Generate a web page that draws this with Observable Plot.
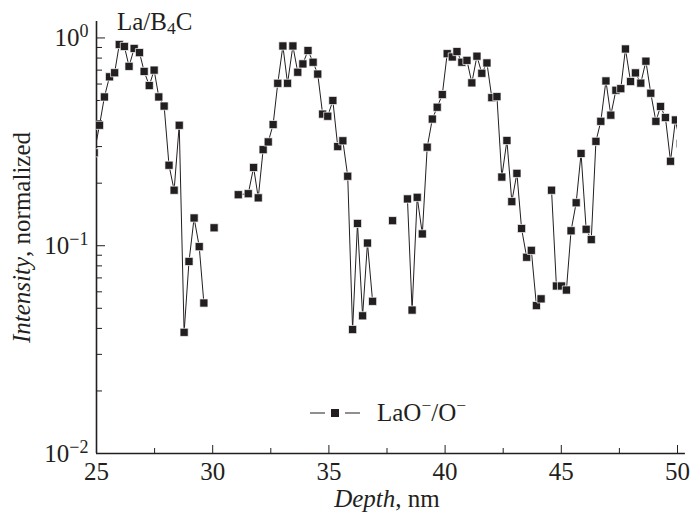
<!DOCTYPE html>
<html><head><meta charset="utf-8">
<script src="https://cdn.jsdelivr.net/npm/d3@7"></script>
<script src="https://cdn.jsdelivr.net/npm/@observablehq/plot@0.6"></script>
<style>
body{margin:0;background:#fff;}
#wrap{position:relative;width:692px;height:515px;font-family:"Liberation Serif","Times New Roman",serif;color:#231f20;}
#title{position:absolute;left:117px;top:9px;font-size:25px;line-height:1;white-space:nowrap;}
#legend{position:absolute;left:310px;top:400px;font-size:25px;display:flex;align-items:center;line-height:1;white-space:nowrap;}
sup{font-size:0.7em;vertical-align:0.55em;line-height:0;}
sub{font-size:0.7em;vertical-align:-0.25em;line-height:0;}
</style></head><body><div id="wrap"></div>
<script>
const depth = [24.9, 25.13, 25.34, 25.56, 25.78, 25.98, 26.2, 26.4, 26.62, 26.85, 27.05, 27.27, 27.48, 27.68, 27.91, 28.12, 28.34, 28.56, 28.77, 28.98, 29.2, 29.42, 29.62, 29.84, 30.06, 30.5, 31.1, 31.53, 31.76, 31.96, 32.17, 32.39, 32.6, 32.8, 33.02, 33.22, 33.45, 33.66, 33.88, 34.1, 34.32, 34.52, 34.73, 34.95, 35.17, 35.38, 35.6, 35.81, 36.02, 36.23, 36.45, 36.66, 36.88, 37.3, 37.74, 38.1, 38.38, 38.58, 38.8, 39.02, 39.23, 39.45, 39.66, 39.88, 40.09, 40.31, 40.51, 40.72, 40.94, 41.15, 41.37, 41.58, 41.8, 42.01, 42.23, 42.44, 42.66, 42.87, 43.09, 43.29, 43.51, 43.71, 43.93, 44.13, 44.35, 44.58, 44.79, 45.01, 45.22, 45.42, 45.64, 45.85, 46.07, 46.29, 46.49, 46.7, 46.92, 47.13, 47.35, 47.56, 47.76, 47.98, 48.19, 48.42, 48.64, 48.85, 49.07, 49.27, 49.48, 49.7, 49.91, 50.12];
const intensity = [0.28, 0.38, 0.52, 0.65, 0.68, 0.93, 0.91, 0.73, 0.89, 0.85, 0.69, 0.59, 0.70, 0.52, 0.47, 0.244, 0.185, 0.38, 0.0383, 0.084, 0.136, 0.099, 0.053, null, 0.122, null, 0.176, 0.178, 0.238, 0.17, 0.29, 0.316, 0.383, 0.605, 0.915, 0.605, 0.915, 0.684, 0.75, 0.87, 0.764, 0.67, 0.43, 0.42, 0.50, 0.30, 0.32, 0.216, 0.0395, 0.128, 0.046, 0.103, 0.054, null, 0.132, null, 0.168, 0.049, 0.171, 0.114, 0.298, 0.407, 0.464, 0.534, 0.84, 0.81, 0.86, 0.764, 0.78, 0.608, 0.817, 0.676, 0.758, 0.516, 0.522, 0.214, 0.321, 0.163, 0.223, 0.121, 0.088, 0.095, 0.0515, 0.0555, null, 0.185, 0.064, 0.064, 0.0612, 0.118, 0.161, 0.278, 0.120, 0.107, 0.318, 0.397, 0.621, 0.425, 0.56, 0.57, 0.885, 0.617, 0.679, 0.606, 0.773, 0.542, 0.397, 0.468, 0.414, 0.255, 0.403, 0.31];
const xMajorTicks = [25, 30, 35, 40, 45, 50];
const xMinorTicks = [27.5, 32.5, 37.5, 42.5, 47.5];
const yMajorTicks = [0.01, 0.1, 1];
const yMinorTicks = [0.02, 0.03, 0.04, 0.05, 0.06, 0.07, 0.08, 0.09, 0.2, 0.3, 0.4, 0.5, 0.6, 0.7, 0.8, 0.9];

const ink = "#231f20";
const data = depth.map((d, i) => ({depth: d, value: intensity[i]}));

const chart = Plot.plot({
  width: 692, height: 515,
  marginLeft: 96, marginRight: 15, marginTop: 21, marginBottom: 62,
  style: {fontFamily: '"Liberation Serif", "Times New Roman", serif', fontSize: "25px", color: ink, background: "white", overflow: "visible"},
  x: {domain: [25, 50]},
  y: {type: "log", domain: [0.01, 1.2]},
  marks: [
    Plot.axisX({ticks: xMajorTicks, tickSize: 0, tickPadding: 9, tickFormat: d => String(d), label: "Depth, nm", labelAnchor: "center", labelArrow: "none", labelOffset: 53}),
    Plot.axisX({ticks: xMajorTicks, tickSize: -8, fill: "none", label: null}),
    Plot.axisX({ticks: xMinorTicks, tickSize: -5, fill: "none", label: null}),
    Plot.axisY({ticks: yMajorTicks, tickSize: 0, tickPadding: 8, tickFormat: d => "10^" + Math.round(Math.log10(d)), label: "Intensity, normalized", labelAnchor: "center", labelArrow: "none", labelOffset: 84}),
    Plot.axisY({ticks: yMajorTicks, tickSize: -9, fill: "none", label: null}),
    Plot.axisY({ticks: yMinorTicks, tickSize: -6, fill: "none", label: null}),
    Plot.ruleX([25], {stroke: ink, strokeWidth: 1.6}),
    Plot.ruleY([0.01], {x1: 25, x2: 50.34, stroke: ink, strokeWidth: 1.6}),
    Plot.line(data, {x: "depth", y: "value", stroke: ink, strokeWidth: 1, clip: true}),
    Plot.dot(data, {x: "depth", y: "value", symbol: "square", r: 4.6, fill: ink, stroke: "white", strokeWidth: 0.7, clip: true})
  ]
});

// superscript exponents on the y tick labels
d3.select(chart).selectAll('g[aria-label="y-axis tick label"] text').each(function() {
  const t = this.textContent;
  if (!t.includes("^")) return;
  const [base, exp] = t.split("^");
  const sel = d3.select(this);
  sel.text(null);
  sel.append("tspan").text(base);
  sel.append("tspan").attr("dy", "-0.5em").attr("font-size", "0.72em").text(exp.replace("-", "−"));
});
// italic parts of axis labels
function italicize(selector, word) {
  d3.select(chart).selectAll(selector + " text").each(function() {
    const t = this.textContent;
    if (!t.startsWith(word)) return;
    const sel = d3.select(this);
    sel.text(null);
    sel.append("tspan").attr("font-style", "italic").text(word);
    sel.append("tspan").text(t.slice(word.length));
  });
}
italicize('g[aria-label="x-axis label"]', "Depth");
italicize('g[aria-label="y-axis label"]', "Intensity");

const wrap = document.getElementById("wrap");
wrap.appendChild(chart);

const title = document.createElement("div");
title.id = "title";
title.innerHTML = "La/B<sub>4</sub>C";
wrap.appendChild(title);

const legend = document.createElement("div");
legend.id = "legend";
legend.innerHTML = `<svg width="50" height="14" style="margin-right:17px"><line x1="0" y1="7" x2="15" y2="7" stroke="${ink}" stroke-width="1"/><rect x="21" y="3" width="8" height="8" fill="${ink}"/><line x1="35" y1="7" x2="50" y2="7" stroke="${ink}" stroke-width="1"/></svg><span>LaO<sup>−</sup>/O<sup>−</sup></span>`;
wrap.appendChild(legend);
</script></body></html>
